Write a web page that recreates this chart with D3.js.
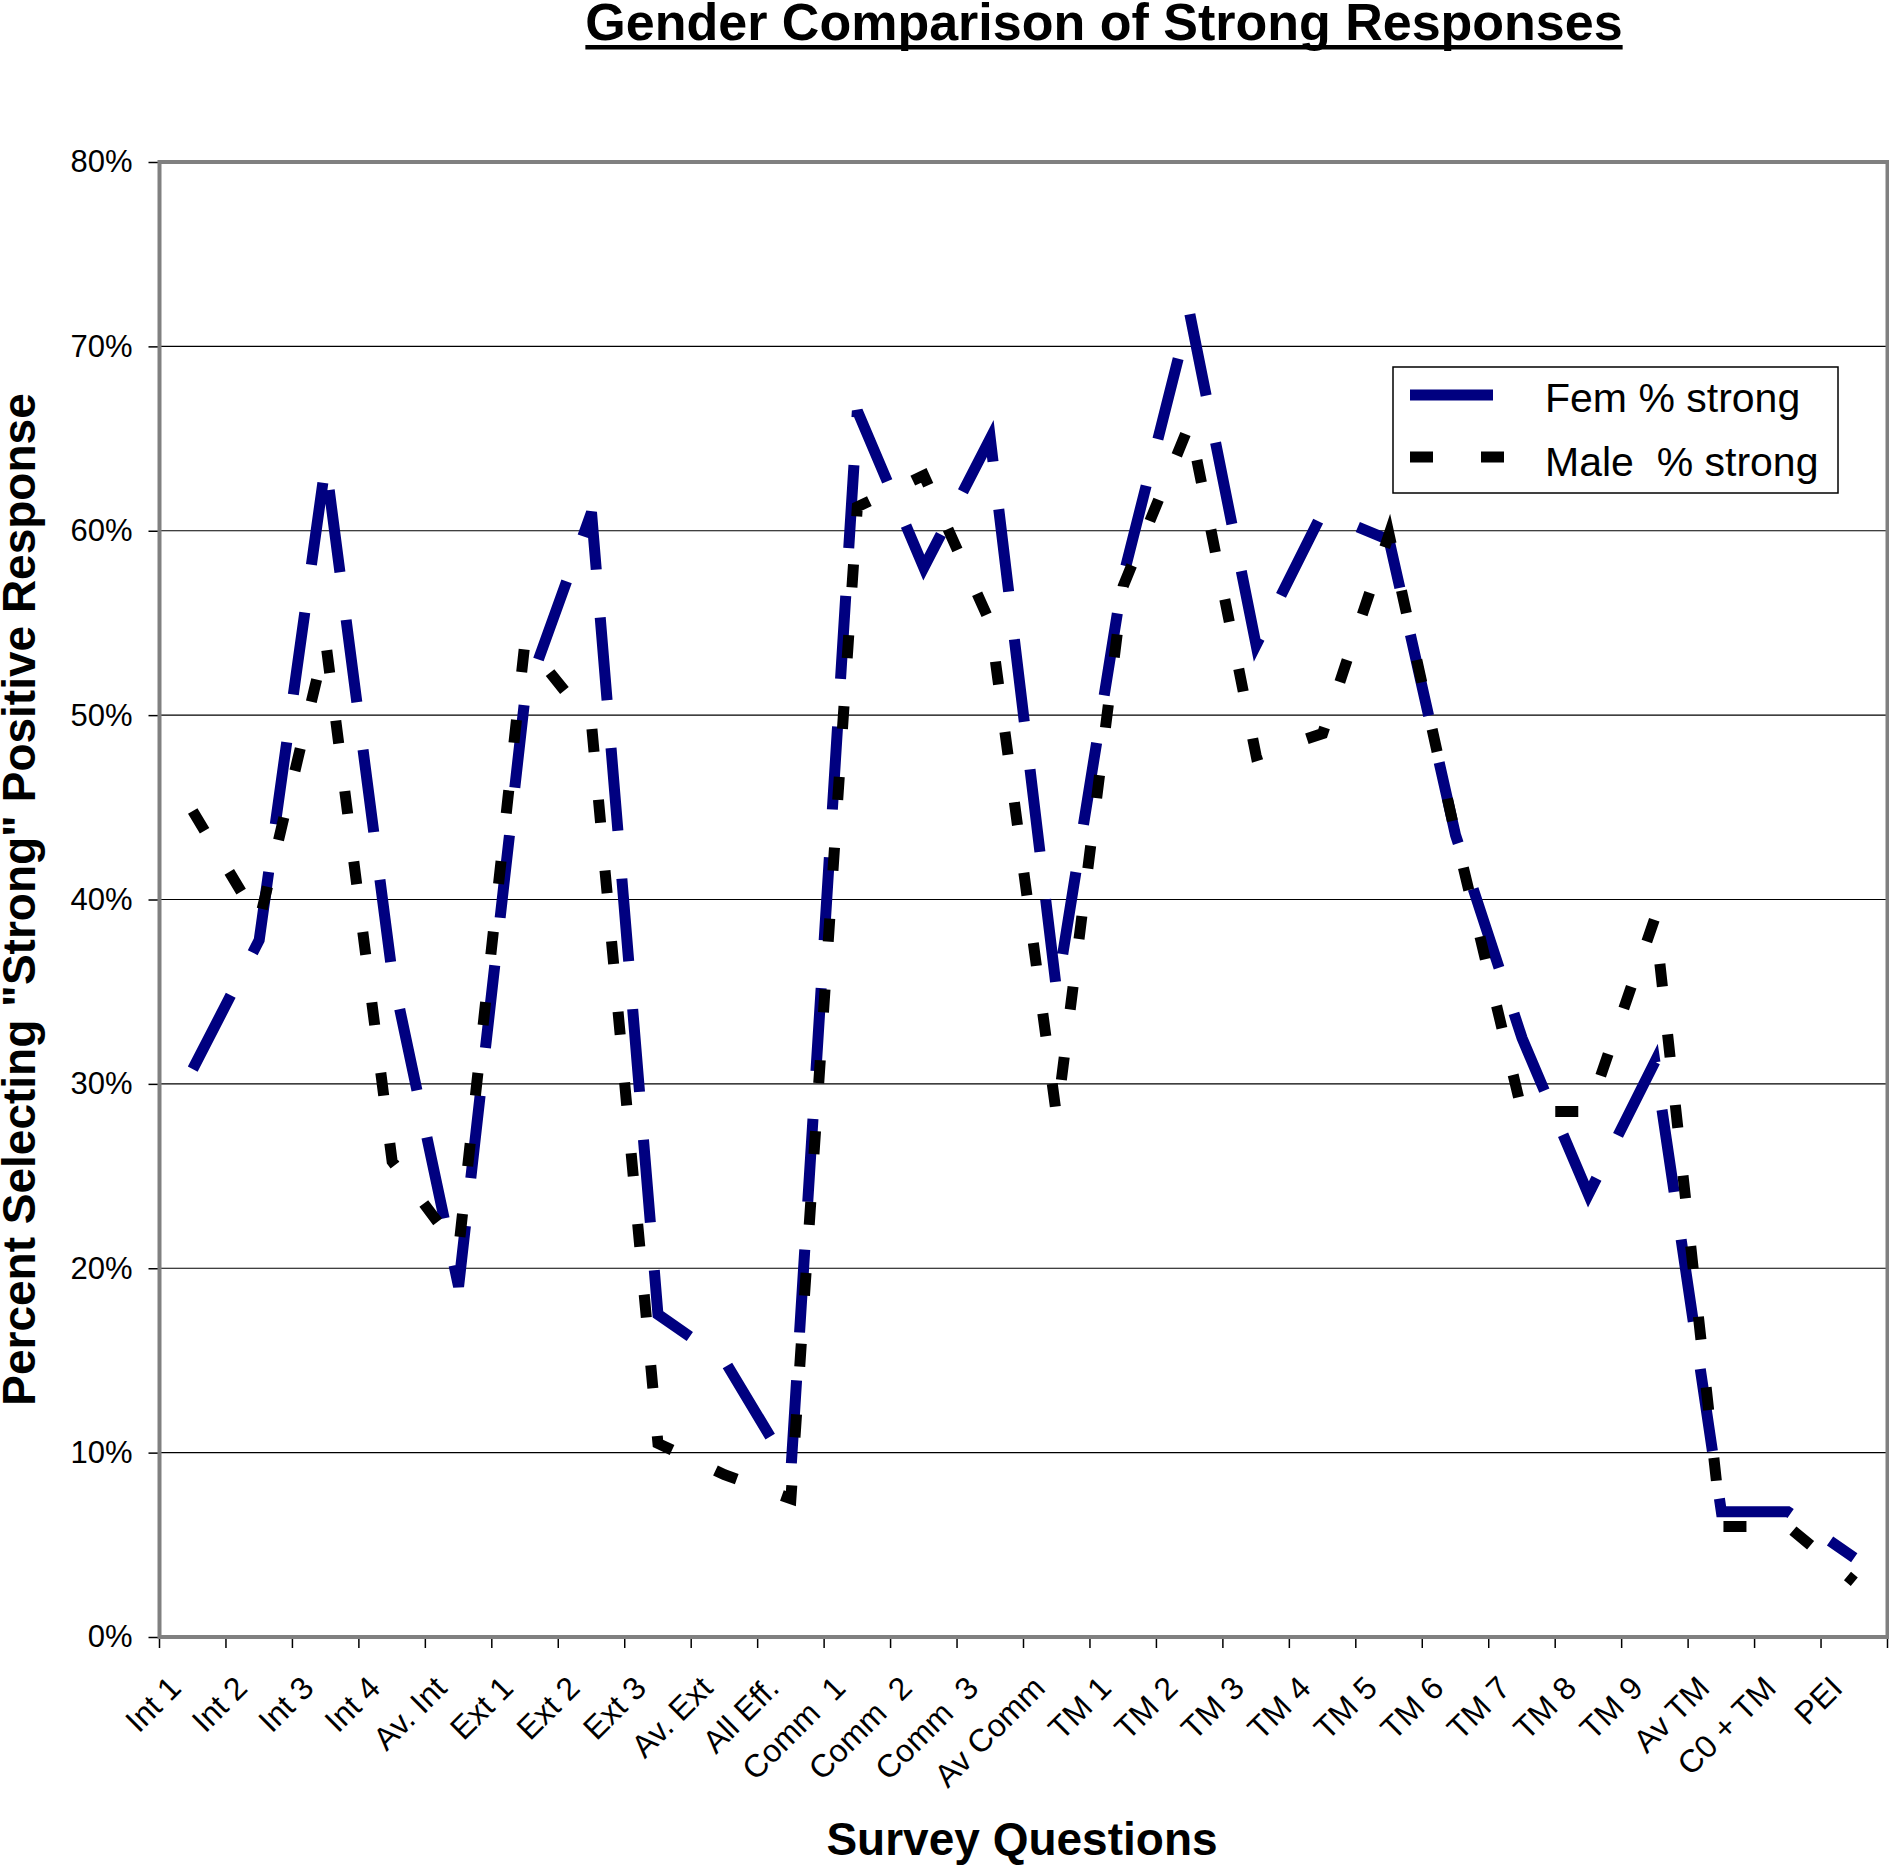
<!DOCTYPE html>
<html>
<head>
<meta charset="utf-8">
<script src="https://cdn.jsdelivr.net/npm/d3@7"></script>
<style>
  html, body { margin: 0; padding: 0; background: #fff; }
  text { font-family: "Liberation Sans", Arial, sans-serif; }
</style>
</head>
<body>
<svg id="chart" width="1889" height="1867"></svg>
<script>
// ---- data ----
const categories = ["Int 1","Int 2","Int 3","Int 4","Av. Int","Ext 1","Ext 2","Ext 3","Av. Ext","All Eff.",
  "Comm  1","Comm  2","Comm  3","Av Comm","TM 1","TM 2","TM 3","TM 4","TM 5","TM 6","TM 7","TM 8","TM 9",
  "Av TM","C0 + TM","PEI"];
const femStrong  = [30.8, 37.8, 63.7, 36.0, 19.0, 51.0, 61.0, 17.5, 15.0, 9.0,
  66.5, 58.0, 65.0, 35.0, 57.5, 71.8, 53.8, 61.0, 59.5, 43.5, 32.5, 24.0, 31.2, 6.8, 6.8, 4.3];
const maleStrong = [44.8, 38.8, 54.0, 25.8, 21.0, 54.0, 49.5, 10.5, 8.8, 7.5,
  61.3, 63.0, 55.0, 28.2, 57.0, 65.8, 47.8, 49.0, 59.8, 43.5, 28.5, 28.5, 39.0, 6.0, 6.0, 3.0];
const yTicks = [0, 10, 20, 30, 40, 50, 60, 70, 80];
const seriesNames = ["Fem % strong", "Male  % strong"];

(function () {
// ---- layout ----
const svg = d3.select("#chart");
const pLeft = 159.5, pRight = 1887.5, pTop = 162, pBottom = 1637;
const x = d3.scaleBand().domain(categories).range([pLeft, pRight]).padding(0);
const y = d3.scaleLinear().domain([0, 80]).range([pBottom, pTop]);
const bw = x.bandwidth();
const cx = d => x(d) + bw / 2;

// title
const title = svg.append("text")
  .attr("x", 1104).attr("y", 40)
  .attr("text-anchor", "middle")
  .style("font-size", "52px").style("font-weight", "bold")
  .text("Gender Comparison of Strong Responses");
const tl = title.node().getComputedTextLength();
svg.append("rect").attr("x", 1104 - tl / 2).attr("y", 45).attr("width", tl).attr("height", 4.5).attr("fill", "#000");

// gridlines
svg.append("g").selectAll("line").data(yTicks.filter(t => t > 0 && t < 80)).join("line")
  .attr("x1", pLeft).attr("x2", pRight)
  .attr("y1", d => y(d)).attr("y2", d => y(d))
  .attr("stroke", "#000").attr("stroke-width", 1.2);

// y axis
const yAxis = svg.append("g").attr("transform", `translate(${pLeft},0)`)
  .call(d3.axisLeft(y).tickValues(yTicks).tickSize(11).tickPadding(16).tickFormat(d => d + "%"));
yAxis.select(".domain").remove();
yAxis.selectAll(".tick line").attr("stroke", "#000").attr("stroke-width", 1.5);
yAxis.selectAll(".tick text").style("font-size", "31px").attr("fill", "#000")
  .style("font-family", '"Liberation Sans", Arial, sans-serif');

// x ticks at category boundaries
const bounds = categories.map(d => x(d)).concat([pRight]);
svg.append("g").selectAll("line").data(bounds).join("line")
  .attr("x1", d => d).attr("x2", d => d)
  .attr("y1", pBottom).attr("y2", pBottom + 11)
  .attr("stroke", "#000").attr("stroke-width", 1.5);

// x labels
svg.append("g").selectAll("text").data(categories).join("text")
  .attr("transform", d => `translate(${cx(d) - 10},${1690}) rotate(-45)`)
  .attr("text-anchor", "end")
  .style("font-size", "32px")
  .style("white-space", "pre")
  .attr("xml:space", "preserve")
  .text(d => d);

// plot border
svg.append("rect").attr("x", pLeft).attr("y", pTop).attr("width", pRight - pLeft).attr("height", pBottom - pTop)
  .attr("fill", "none").attr("stroke", "#808080").attr("stroke-width", 4);

// lines
const line = d3.line().x((v, i) => cx(categories[i])).y(v => y(v));
svg.append("path").datum(femStrong).attr("d", line)
  .attr("fill", "none").attr("stroke", "#000080").attr("stroke-width", 11)
  .attr("stroke-dasharray", "83 48").attr("stroke-linejoin", "miter").attr("stroke-linecap", "butt");
svg.append("path").datum(maleStrong).attr("d", line)
  .attr("fill", "none").attr("stroke", "#000").attr("stroke-width", 11)
  .attr("stroke-dasharray", "23 48").attr("stroke-linejoin", "miter").attr("stroke-linecap", "butt");

// axis titles
svg.append("text").attr("x", 1022).attr("y", 1855).attr("text-anchor", "middle")
  .style("font-size", "46px").style("font-weight", "bold").text("Survey Questions");
svg.append("text").attr("transform", `translate(35,${(pTop + pBottom) / 2}) rotate(-90)`)
  .attr("text-anchor", "middle")
  .style("font-size", "46px").style("font-weight", "bold")
  .text('Percent Selecting "Strong" Positive Response');

// legend
const lg = svg.append("g");
lg.append("rect").attr("x", 1393).attr("y", 367).attr("width", 445).attr("height", 126)
  .attr("fill", "#fff").attr("stroke", "#000").attr("stroke-width", 1.5);
const legendItems = [
  {name: seriesNames[0], color: "#000080", dash: "83 48", ly: 395, ty: 412},
  {name: seriesNames[1], color: "#000", dash: "23 48", ly: 457, ty: 476}
];
legendItems.forEach(it => {
  lg.append("line").attr("x1", 1410).attr("x2", 1506).attr("y1", it.ly).attr("y2", it.ly)
    .attr("stroke", it.color).attr("stroke-width", 11).attr("stroke-dasharray", it.dash);
  lg.append("text").attr("x", 1545).attr("y", it.ty).style("font-size", "41px")
    .style("white-space", "pre").attr("xml:space", "preserve").text(it.name);
});
})();
</script>
</body>
</html>
